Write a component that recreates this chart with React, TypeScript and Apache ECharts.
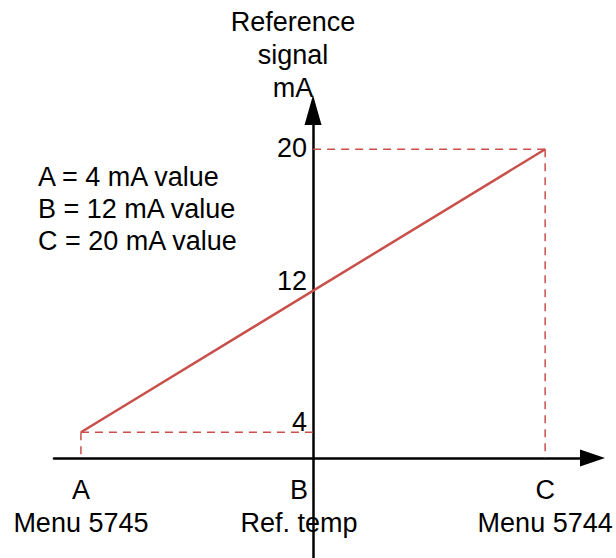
import React, { useEffect, useRef } from "react";
import * as echarts from "echarts";

// Data
const xKeys = [-1, 0, 1];
const letters = ["A", "B", "C"];
const subLabels = ["Menu 5745", "Ref. temp", "Menu 5744"];
const mAValues = [4, 12, 20];
const yTickLabels = ["4", "12", "20"];
const legendLines = ["A = 4 mA value", "B = 12 mA value", "C = 20 mA value"];
const axisTitleLines = ["Reference", "signal", "mA"];
const xAxisLevel = 2.55; // mA level at which the horizontal axis is drawn

const RED = "#c9504a";
const FONT = "'Liberation Sans', Arial, sans-serif";
const FS = 27;

export default function App() {
  const ref = useRef<HTMLDivElement>(null);
  useEffect(() => {
    document.body.style.margin = "0";
    const chart = echarts.init(ref.current!, null, { renderer: "svg" });
    const linePts = xKeys.map((x, i) => [x, mAValues[i]]);
    const first = 0;
    const last = xKeys.length - 1;
    const dashStyle = { color: RED, width: 1.5, type: [8, 6] as any };
    const dashed = (data: number[][]) => ({
      type: "line",
      data,
      symbol: "none",
      lineStyle: dashStyle,
      silent: true,
      z: 1,
    });
    chart.setOption({
      animation: false,
      grid: { left: 54, right: 23.5, top: 110, bottom: 0 },
      xAxis: {
        type: "value",
        min: -1.116,
        max: 1.204,
        position: "bottom",
        offset: -100,
        axisLine: {
          onZero: false,
          lineStyle: { color: "#000", width: 2.5 },
          symbol: ["none", "triangle"],
          symbolSize: [17, 25],
        },
        axisTick: { show: false },
        splitLine: { show: false },
        axisLabel: {
          customValues: xKeys,
          formatter: (v: number) => {
            const i = xKeys.indexOf(v);
            if (i < 0) return "";
            return i === 1
              ? "{b|" + letters[i] + "}\n{b|" + subLabels[i] + "}"
              : "{n|" + letters[i] + "}\n{n|" + subLabels[i] + "}";
          },
          margin: 15,
          rich: {
            n: { fontSize: FS, lineHeight: 33, color: "#000", fontFamily: FONT },
            b: { fontSize: FS, lineHeight: 33, color: "#000", fontFamily: FONT, padding: [0, 28, 0, 0] },
          },
          color: "#000",
          fontFamily: FONT,
          fontSize: FS,
          lineHeight: 33,
        },
      },
      yAxis: {
        type: "value",
        min: -3.11,
        max: 22.22,
        axisLine: {
          show: true,
          onZero: true,
          lineStyle: { color: "#000", width: 2.5 },
          symbol: ["none", "triangle"],
          symbolSize: [17, 30],
        },
        axisTick: { show: false },
        splitLine: { show: false },
        axisLabel: { show: false },
      },
      graphic: [
        {
          type: "text",
          x: 293,
          y: 5,
          style: {
            text: axisTitleLines.join("\n"),
            font: FS + "px " + FONT,
            lineHeight: 33,
            align: "center",
            verticalAlign: "top",
            fill: "#000",
          },
        },
        {
          type: "text",
          x: 38,
          y: 161,
          style: {
            text: legendLines.join("\n"),
            font: FS + "px " + FONT,
            lineHeight: 32,
            align: "left",
            verticalAlign: "top",
            fill: "#000",
          },
        },
      ],
      series: [
        dashed([[xKeys[first], mAValues[first]], [0, mAValues[first]]]),
        dashed([[xKeys[first], mAValues[first]], [xKeys[first], xAxisLevel]]),
        dashed([[xKeys[last], mAValues[last]], [0, mAValues[last]]]),
        dashed([[xKeys[last], mAValues[last]], [xKeys[last], xAxisLevel]]),
        {
          type: "line",
          data: [linePts[first], linePts[last]],
          symbol: "none",
          lineStyle: { color: RED, width: 2.5 },
          z: 3,
        },
        {
          type: "scatter",
          symbolSize: 0,
          silent: true,
          itemStyle: { opacity: 1 },
          label: {
            show: true,
            formatter: (p: any) => yTickLabels[p.dataIndex],
            position: "left",
            distance: 6,
            color: "#000",
            opacity: 1,
            fontSize: FS,
            fontFamily: FONT,
          },
          data: mAValues.map((v, i) => ({
            value: [0, v],
            label: { offset: [0, i === last ? -1 : -10] },
          })),
        },
      ],
    });
    return () => chart.dispose();
  }, []);
  return (
    <div
      ref={ref}
      style={{ position: "absolute", left: 0, top: 0, width: 616, height: 558 }}
    />
  );
}
